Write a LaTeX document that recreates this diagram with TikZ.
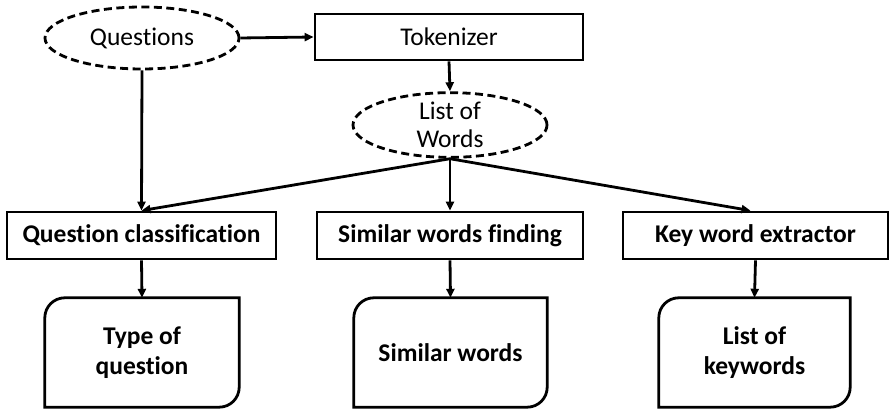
\documentclass[tikz,border=0pt]{standalone}
\usepackage{fontspec}
\setmainfont{Carlito}[Ligatures={NoCommon,NoContextual}]
\usetikzlibrary{shapes.geometric,arrows.meta}

\tikzset{
  x=1pt, y=1pt,
  every node/.style={font=\fontsize{25.5}{28}\selectfont, align=center, inner sep=0pt},
  line/.style={line width=2.8pt},
  dashedoval/.style={ellipse, draw, line width=2.8pt, dash pattern=on 8pt off 4.5pt},
  procbox/.style={rectangle, draw, line width=2.8pt, font=\fontsize{25.5}{28}\selectfont\bfseries},
  resultbox/.style={rectangle, font=\fontsize{25.5}{30}\selectfont\bfseries},
  flow/.style={line, -{Triangle[length=9pt,width=8pt]}},
}

% rectangle with rounded top-left and bottom-right corners
\newcommand{\leafborder}[1]{%
  \draw[line] (#1.south west) -- ([yshift=-20pt]#1.north west)
    arc[start angle=180, end angle=90, radius=20pt]
    -- (#1.north east) -- ([yshift=20pt]#1.south east)
    arc[start angle=0, end angle=-90, radius=20pt] -- cycle;}

\begin{document}
\begin{tikzpicture}
\useasboundingbox (0,0) rectangle (889,409);

\node[dashedoval, minimum width=194pt, minimum height=62pt] (q) at (142,371) {Questions};
\node[rectangle, draw, line width=2.8pt, minimum width=268pt, minimum height=46pt] (tok) at (449,372) {Tokenizer};
\node[dashedoval, minimum width=194pt, minimum height=60pt] (low) at (450,284) {List of\\Words};

\node[procbox, minimum width=269pt, minimum height=47pt] (qc) at (141.5,173.5) {Question classification};
\node[procbox, minimum width=266pt, minimum height=47pt] (swf) at (450,173.5) {Similar words finding};
\node[procbox, minimum width=265pt, minimum height=47pt] (kwe) at (755.5,173.5) {Key word extractor};

\node[resultbox, minimum width=194pt, minimum height=109pt] (tq) at (142,56.5) {Type of\\question};
\node[resultbox, minimum width=193pt, minimum height=109pt] (sw) at (450.5,56.5) {Similar words};
\node[resultbox, minimum width=191pt, minimum height=109pt] (lk) at (754.5,56.5) {List of\\keywords};
\leafborder{tq}
\leafborder{sw}
\leafborder{lk}

\draw[flow] (q.east) -- (tok.west);
\draw[flow] (tok.south) -- (low.north);
\draw[flow] (q.south) -- (qc.north);
\draw[flow] (low.south) -- (qc.north);
\draw[flow] (low.south) -- (swf.north);
\draw[flow] (low.south) -- ([xshift=-5pt]kwe.north);
\draw[flow] (qc.south) -- (tq.north);
\draw[flow] (swf.south) -- (sw.north);
\draw[flow] (kwe.south) -- (lk.north);
\end{tikzpicture}
\end{document}
